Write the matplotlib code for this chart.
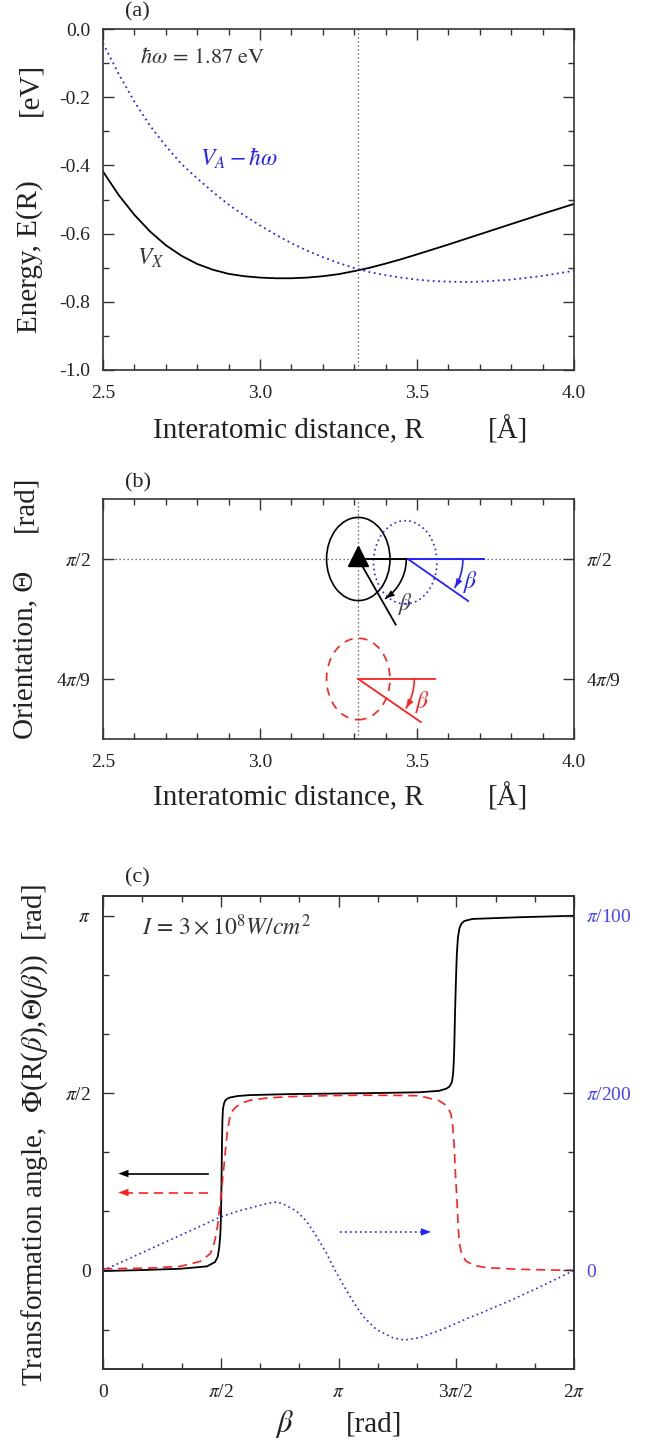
import numpy as np
import matplotlib

matplotlib.use("Agg")
import matplotlib.pyplot as plt
from matplotlib.patches import Ellipse
from matplotlib.ticker import FixedLocator, MultipleLocator

plt.rcParams["font.family"] = ["Liberation Serif", "DejaVu Serif"]
plt.rcParams["mathtext.fontset"] = "stix"

PI = np.pi
W, H = 668, 1442

# ---- (a) potential curves ----
R_VX = [2.5, 2.55, 2.6, 2.65, 2.7, 2.75, 2.8, 2.85, 2.9, 2.95, 3.0, 3.05, 3.1,
        3.15, 3.2, 3.25, 3.3, 3.35, 3.4, 3.45, 3.5, 3.6, 3.7, 3.8, 3.9, 4.0]
E_VX = [-0.418, -0.487, -0.545, -0.594, -0.634, -0.665, -0.689, -0.706, -0.718,
        -0.725, -0.729, -0.731, -0.731, -0.729, -0.725, -0.719, -0.710, -0.700,
        -0.688, -0.675, -0.661, -0.632, -0.602, -0.572, -0.542, -0.513]
R_VA = [2.5, 2.55, 2.6, 2.65, 2.7, 2.75, 2.8, 2.85, 2.9, 2.95, 3.0, 3.05, 3.1,
        3.15, 3.2, 3.25, 3.3, 3.35, 3.4, 3.45, 3.5, 3.55, 3.6, 3.65, 3.7, 3.8,
        3.9, 4.0]
E_VA = [-0.042, -0.132, -0.213, -0.284, -0.343, -0.396, -0.438, -0.478, -0.515,
        -0.547, -0.576, -0.603, -0.628, -0.650, -0.669, -0.686, -0.701, -0.713,
        -0.722, -0.729, -0.735, -0.739, -0.741, -0.742, -0.741, -0.735, -0.724,
        -0.709]
R_CROSS = 3.313

# ---- (b) orientation sketch ----
THETA_X = PI / 2
THETA_RED = 4 * PI / 9
ELL_W, ELL_H = 0.202, 0.121
BLUE_CENTER = (3.4625, 1.566)
BLACK_ORIGIN = (R_CROSS, THETA_X)
BLACK_END = (3.432, 1.4755)
BLUE_ORIGIN = (3.471, THETA_X)
BLUE_HORIZ_END = 3.712
BLUE_END = (3.663, 1.5097)
RED_ORIGIN = (R_CROSS, THETA_RED)
RED_HORIZ_END = 3.557
RED_END = (3.512, 1.3337)

# ---- (c) transformation angle vs beta ----
BETA_K = [0.0, 0.5, 1.03, 1.386, 1.494, 1.53, 1.551, 1.565, 1.572, 1.578, 1.583,
          1.588, 1.593, 1.60, 1.615, 1.63, 1.66, 1.694, 1.80, 1.961, 2.5, 3.0, 3.5,
          3.97, 4.22, 4.486, 4.58, 4.619, 4.64, 4.655, 4.67, 4.678, 4.686, 4.695,
          4.708, 4.72, 4.735, 4.755, 4.78, 4.82, 4.93, 5.55, 2 * PI]
PHI_K = [-0.005, 0.003, 0.015, 0.036, 0.074, 0.12, 0.207, 0.32, 0.44, 0.65, 0.9,
         1.15, 1.33, 1.43, 1.48, 1.505, 1.522, 1.532, 1.545, 1.553, 1.562, 1.566,
         1.570, 1.575, 1.578, 1.591, 1.610, 1.627, 1.648, 1.67, 1.74, 1.83, 1.975,
         2.25, 2.566, 2.8, 2.95, 3.03, 3.07, 3.095, 3.113, 3.128, 3.141]
BETA_R = [0.0, 0.583, 1.03, 1.297, 1.43, 1.47, 1.497, 1.53, 1.55, 1.57, 1.586,
          1.61, 1.63, 1.66, 1.69, 1.72, 1.76, 1.81, 1.88, 1.965, 2.2, 2.5, 3.0,
          3.5, 3.97, 4.22, 4.486, 4.56, 4.61, 4.642, 4.665, 4.686, 4.70, 4.72,
          4.735, 4.75, 4.775, 4.80, 4.84, 4.95, 5.107, 5.55, 2 * PI]
PHI_R = [0.015, 0.02, 0.036, 0.08, 0.148, 0.21, 0.28, 0.40, 0.52, 0.63, 0.74,
         0.90, 1.04, 1.24, 1.35, 1.405, 1.44, 1.464, 1.488, 1.508, 1.528, 1.540,
         1.548, 1.552, 1.550, 1.547, 1.503, 1.47, 1.43, 1.385, 1.28, 1.089, 0.88,
         0.645, 0.44, 0.262, 0.17, 0.13, 0.084, 0.045, 0.025, 0.01, 0.0]
BETA_B = [0.0, 0.5, 1.0, 1.564, 1.8, 2.01, 2.223, 2.32, 2.40, 2.578, 2.711, 2.844, 2.977,
          3.088, 3.199, 3.332, 3.465, 3.643, 3.865, 4.02, 4.22, 4.53, 4.885, 5.02, 5.42,
          5.8, 2 * PI]
PHI_B = [0.0, 0.00151, 0.00302, 0.00473, 0.00525, 0.00562, 0.00598, 0.00606, 0.00590,
         0.00527, 0.00439, 0.00306, 0.00158, 0.0001, -0.00122, -0.0027, -0.00403, -0.00521,
         -0.00596, -0.00616, -0.00596, -0.00521, -0.00418, -0.00383, -0.0027, -0.00155, 0.0]

INK = "#222222"
BLUE = "#2222ff"
RED = "#ff2020"
DOT = (0, (1, 2.2))


def box(top, bottom, left=103, right=574):
    return [left / W, 1 - bottom / H, (right - left) / W, (bottom - top) / H]


def ftext(x, y, s, **kw):
    kw.setdefault("ha", "center")
    kw.setdefault("va", "center")
    kw.setdefault("color", INK)
    fig.text(x / W, 1 - y / H, s, **kw)


def style(ax):
    for sp in ax.spines.values():
        sp.set_color("#333333")
        sp.set_linewidth(1.2)
    ax.tick_params(which="both", direction="in", top=True, right=True,
                   colors="#333333", labelcolor=INK, labelsize=14)
    ax.tick_params(which="major", length=8, width=1.0)
    ax.tick_params(which="minor", length=4, width=1.0)
    ax.tick_params(axis="x", pad=11)
    ax.tick_params(axis="y", pad=9)


def head(ax, x0, y0, x1, y1, color, scale=9):
    ax.annotate("", xy=(x1, y1), xytext=(x0, y0),
                arrowprops=dict(arrowstyle="-|>,head_length=0.8,head_width=0.3",
                                color=color, lw=0.01, shrinkA=0, shrinkB=0,
                                mutation_scale=scale))


fig = plt.figure(figsize=(W / 100, H / 100), dpi=100)

# ================= (a) =================
ax = fig.add_axes(box(29, 370))
ax.plot(R_VX, E_VX, color="k", lw=1.3)
ax.plot(R_VA, E_VA, color=BLUE, lw=1.3, ls=(0, (1, 2)))
ax.axvline(R_CROSS, color="#444444", lw=0.9, ls=DOT)
ax.set_xlim(2.5, 4.0)
ax.set_ylim(-1.0, 0.0)
ax.xaxis.set_major_locator(FixedLocator([2.5, 3.0, 3.5, 4.0]))
ax.set_xticklabels(["2.5", "3.0", "3.5", "4.0"])
ax.xaxis.set_minor_locator(MultipleLocator(0.1))
ax.yaxis.set_major_locator(FixedLocator([-1.0, -0.8, -0.6, -0.4, -0.2, 0.0]))
ax.set_yticklabels(["-1.0", "-0.8", "-0.6", "-0.4", "-0.2", "0.0"])
ax.yaxis.set_minor_locator(MultipleLocator(0.1))
style(ax)
ax.text(2.618, -0.086, r"$\hbar\omega\, =\, 1.87\ \mathrm{eV}$", fontsize=16,
        color="#333333", va="center")
ax.text(2.809, -0.379, r"$V_A - \hbar\omega$", fontsize=17, color=BLUE, va="center")
ax.text(2.607, -0.672, r"$V_X$", fontsize=17, color="#333333", va="center")
ftext(137.6, 12, "(a)", fontsize=16)
ftext(30, 89, "[eV]", fontsize=21, rotation=90)
ftext(30, 257, "Energy, E(R)", fontsize=21, rotation=90)
ftext(288, 430, "Interatomic distance, R", fontsize=21)
ftext(508, 430, "[Å]", fontsize=21)

# ================= (b) =================
axb = fig.add_axes(box(499, 739))
axb.set_xlim(2.5, 4.0)
axb.set_ylim(THETA_RED - PI / 36, THETA_X + PI / 36)
pos = axb.get_position()
px_r = pos.width * W / 1.5
px_t = pos.height * H / (PI / 9)

axb.axvline(R_CROSS, color="#444444", lw=0.9, ls=DOT)
axb.axhline(THETA_X, color="#444444", lw=0.9, ls=DOT)
axb.add_patch(Ellipse(BLACK_ORIGIN, ELL_W, ELL_H, fill=False, ec="k", lw=1.2))
axb.add_patch(Ellipse(BLUE_CENTER, ELL_W, ELL_H, fill=False, ec=BLUE, lw=1.2,
                      ls=(0, (1, 2))))
axb.add_patch(Ellipse(RED_ORIGIN, ELL_W, 0.1185, fill=False, ec=RED, lw=1.2,
                      ls=(0, (5, 4))))
axb.plot([BLACK_ORIGIN[0], BLUE_ORIGIN[0]], [THETA_X, THETA_X], color="k", lw=1.4)
axb.plot([BLACK_ORIGIN[0], BLACK_END[0]], [BLACK_ORIGIN[1], BLACK_END[1]], color="k", lw=1.3)
axb.plot([BLUE_ORIGIN[0], BLUE_HORIZ_END], [THETA_X, THETA_X], color=BLUE, lw=1.4)
axb.plot([BLUE_ORIGIN[0], BLUE_END[0]], [BLUE_ORIGIN[1], BLUE_END[1]], color=BLUE, lw=1.3)
axb.plot([RED_ORIGIN[0], RED_HORIZ_END], [THETA_RED, THETA_RED], color=RED, lw=1.3)
axb.plot([RED_ORIGIN[0], RED_END[0]], [RED_ORIGIN[1], RED_END[1]], color=RED, lw=1.3)
axb.plot([R_CROSS], [THETA_X + 0.004], marker="^", ms=14, color="k", ls="none")

# angle arcs (circles in screen pixels) with an arrowhead at the end
for (cx, cy), r, a_end, col in [(BLACK_ORIGIN, 48, 55, "k"),
                                 (BLUE_ORIGIN, 55, 31, BLUE),
                                 (RED_ORIGIN, 56, 31, RED)]:
    t = np.deg2rad(np.linspace(0, -a_end, 40))
    xs = cx + r * np.cos(t) / px_r
    ys = cy + r * np.sin(t) / px_t
    axb.plot(xs, ys, color=col, lw=1.2)
    head(axb, xs[-4], ys[-4], xs[-1], ys[-1], col, scale=8)

axb.text(3.462, 1.5048, r"$\beta$", fontsize=17, color="#444444", ha="center", va="center")
axb.text(3.669, 1.5375, r"$\beta$", fontsize=17, color=BLUE, ha="center", va="center")
axb.text(3.518, 1.363, r"$\beta$", fontsize=17, color=RED, ha="center", va="center")

axb.xaxis.set_major_locator(FixedLocator([2.5, 3.0, 3.5, 4.0]))
axb.set_xticklabels(["2.5", "3.0", "3.5", "4.0"])
axb.xaxis.set_minor_locator(MultipleLocator(0.1))
axb.yaxis.set_major_locator(FixedLocator([THETA_RED, THETA_X]))
axb.set_yticklabels([r"4$\pi$/9", r"$\pi$/2"])
style(axb)
axb.tick_params(axis="y", labelright=True)
ftext(137.6, 483, "(b)", fontsize=16)
ftext(25, 504, "[rad]", fontsize=21, rotation=90)
ftext(25, 655, "Orientation, Θ", fontsize=21, rotation=90)
ftext(288, 797, "Interatomic distance, R", fontsize=21)
ftext(508, 797, "[Å]", fontsize=21)

# ================= (c) =================
axc = fig.add_axes(box(896, 1369))
axc.plot(BETA_K, PHI_K, color="k", lw=1.3)
axc.plot(BETA_R, PHI_R, color=RED, lw=1.2, ls=(0, (5.5, 3.5)))
axc.set_xlim(0, 2 * PI)
axc.set_ylim(-5 * PI / 18, 19 * PI / 18)
axc.xaxis.set_major_locator(FixedLocator([0, PI / 2, PI, 3 * PI / 2, 2 * PI]))
axc.set_xticklabels(["0", r"$\pi$/2", r"$\pi$", r"3$\pi$/2", r"2$\pi$"])
axc.xaxis.set_minor_locator(MultipleLocator(PI / 6))
axc.yaxis.set_major_locator(FixedLocator([0, PI / 2, PI]))
axc.set_yticklabels(["0", r"$\pi$/2", r"$\pi$"])
axc.yaxis.set_minor_locator(MultipleLocator(PI / 6))
style(axc)
axc.tick_params(which="both", right=False)

# direction arrows
axc.plot([1.402, 0.3], [0.858, 0.858], color="k", lw=1.2)
head(axc, 0.4, 0.858, 0.206, 0.858, "k")
axc.plot([1.402, 0.3], [0.69, 0.69], color=RED, lw=1.2, ls=(0, (5.5, 3.5)))
head(axc, 0.4, 0.69, 0.206, 0.69, RED)
axc.plot([3.155, 4.25], [0.341, 0.341], color=BLUE, lw=1.2, ls=(0, (1, 2)))
head(axc, 4.15, 0.341, 4.375, 0.341, BLUE)

axc.text(0.518, 3.043, r"$I\, =\, 3\times10^8W/cm^2$", fontsize=17, color="#333333",
         va="center")

ax2 = axc.twinx()
ax2.plot(BETA_B, PHI_B, color=BLUE, lw=1.2, ls=(0, (1, 2)))
ax2.set_ylim(-5 * PI / 1800, 19 * PI / 1800)
ax2.yaxis.set_major_locator(FixedLocator([0, PI / 200, PI / 100]))
ax2.set_yticklabels(["0", r"$\pi$/200", r"$\pi$/100"])
ax2.yaxis.set_minor_locator(MultipleLocator(PI / 600))
for sp in ax2.spines.values():
    sp.set_color("#333333")
    sp.set_linewidth(1.2)
ax2.tick_params(which="both", direction="in", colors="#333333", labelcolor="#4444ff",
                labelsize=14, pad=9)
ax2.tick_params(which="major", length=8, width=1.0)
ax2.tick_params(which="minor", length=4, width=1.0)

ftext(137.6, 878, "(c)", fontsize=16)
ftext(35, 1135, r"Transformation angle,  $\Phi$(R($\beta$),$\Theta$($\beta$))  [rad]",
      fontsize=21, rotation=90)
ftext(284, 1424, r"$\beta$", fontsize=22)
ftext(374, 1424, "[rad]", fontsize=21)

fig.savefig("out.png", dpi=100)
